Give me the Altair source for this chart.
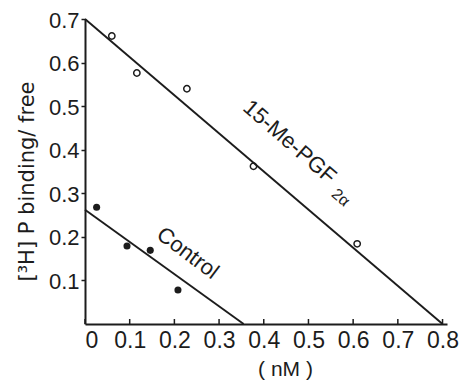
import altair as alt
import pandas as pd

# ---- data ----
pgf_x = [0.060, 0.116, 0.228, 0.377, 0.609]
pgf_y = [0.661, 0.576, 0.540, 0.362, 0.184]

ctrl_x = [0.026, 0.094, 0.146, 0.208]
ctrl_y = [0.268, 0.179, 0.169, 0.078]

pgf_line_x = [0.0, 0.80]
pgf_line_y = [0.70, 0.0]

ctrl_line_x = [0.0, 0.355]
ctrl_line_y = [0.262, 0.0]

x_ticks = [0, 0.1, 0.2, 0.3, 0.4, 0.5, 0.6, 0.7, 0.8]
y_ticks = [0.1, 0.2, 0.3, 0.4, 0.5, 0.6, 0.7]

labels_text = ["15-Me-PGF", "Control"]
labels_x = [0.458, 0.230]
labels_y = [0.418, 0.163]

sub_text = ["2α"]
sub_x = [0.572]
sub_y = [0.290]

INK = "#1c1c1c"
FONT = "Liberation Sans"
W, H = 362, 305

xscale = alt.Scale(domain=[0, 0.81], nice=False, zero=False)
yscale = alt.Scale(domain=[0, 0.7], nice=False, zero=False)

xaxis = alt.Axis(
    values=x_ticks, format="~g", title="( nM )", ticks=False, tickSize=0,
    grid=False, labelPadding=5, labelFontSize=23, labelFont=FONT,
    labelColor=INK, domainColor=INK, domainWidth=2, titleFont=FONT,
    titleFontSize=21, titleFontWeight="normal", titleColor=INK,
    titleX=200, titleY=45, titleBaseline="middle", titleAlign="center",
    labelOverlap=False,
)
yaxis = alt.Axis(
    values=y_ticks, format="~g", title="[³H] P binding/ free", ticks=True,
    tickSize=4, tickWidth=1.5, tickColor=INK, grid=False, labelPadding=2,
    labelFontSize=22, labelFont=FONT, labelColor=INK, labelOffset=1,
    domainColor=INK, domainWidth=2, titleFont="DejaVu Sans", titleFontSize=21,
    titleFontWeight="normal", titleColor=INK, titleX=-58, titleY=162,
    titleAngle=-90, titleBaseline="middle", titleAlign="center",
    labelOverlap=False,
)

X = lambda f: alt.X(f, type="quantitative", scale=xscale, axis=xaxis)
Y = lambda f: alt.Y(f, type="quantitative", scale=yscale, axis=yaxis)

pgf_pts = pd.DataFrame({"x": pgf_x, "y": pgf_y})
ctrl_pts = pd.DataFrame({"x": ctrl_x, "y": ctrl_y})
pgf_ln = pd.DataFrame({"x": pgf_line_x, "y": pgf_line_y})
ctrl_ln = pd.DataFrame({"x": ctrl_line_x, "y": ctrl_line_y})
ticks_df = pd.DataFrame({"x": x_ticks})
lab_df = pd.DataFrame({"t": labels_text, "x": labels_x, "y": labels_y})
sub_df = pd.DataFrame({"t": sub_text, "x": sub_x, "y": sub_y})

l1 = alt.Chart(pgf_ln).mark_line(color=INK, strokeWidth=1.9).encode(x=X("x"), y=Y("y"))
l2 = alt.Chart(ctrl_ln).mark_line(color=INK, strokeWidth=1.9).encode(x=X("x"), y=Y("y"))
p1 = alt.Chart(pgf_pts).mark_point(shape="circle", filled=False, color=INK,
                                   size=40, strokeWidth=1.5, opacity=1).encode(x=X("x"), y=Y("y"))
p2 = alt.Chart(ctrl_pts).mark_circle(color=INK, size=50, opacity=1).encode(x=X("x"), y=Y("y"))
tk = alt.Chart(ticks_df).mark_rule(color=INK, strokeWidth=1.5).encode(
    x=X("x"), y=alt.value(H), y2=alt.value(H - 5))

t1 = alt.Chart(lab_df.iloc[[0]]).mark_text(
    font=FONT, fontSize=22, color=INK, angle=41, align="center", baseline="middle"
).encode(x=X("x"), y=Y("y"), text="t:N")
t2 = alt.Chart(lab_df.iloc[[1]]).mark_text(
    font=FONT, fontSize=22, color=INK, angle=37, align="center", baseline="middle"
).encode(x=X("x"), y=Y("y"), text="t:N")
t3 = alt.Chart(sub_df).mark_text(
    font=FONT, fontSize=16, color=INK, angle=41, align="center", baseline="middle"
).encode(x=X("x"), y=Y("y"), text="t:N")

chart = alt.layer(tk, l1, l2, p1, p2, t1, t2, t3).properties(
    width=W, height=H,
    autosize=alt.AutoSizeParams(type="none"),
    padding={"left": 77, "top": 11, "right": 13, "bottom": 56},
    background="white",
).configure_view(stroke=None)

chart.save("out.html", embed_options={"renderer": "svg", "actions": False})
